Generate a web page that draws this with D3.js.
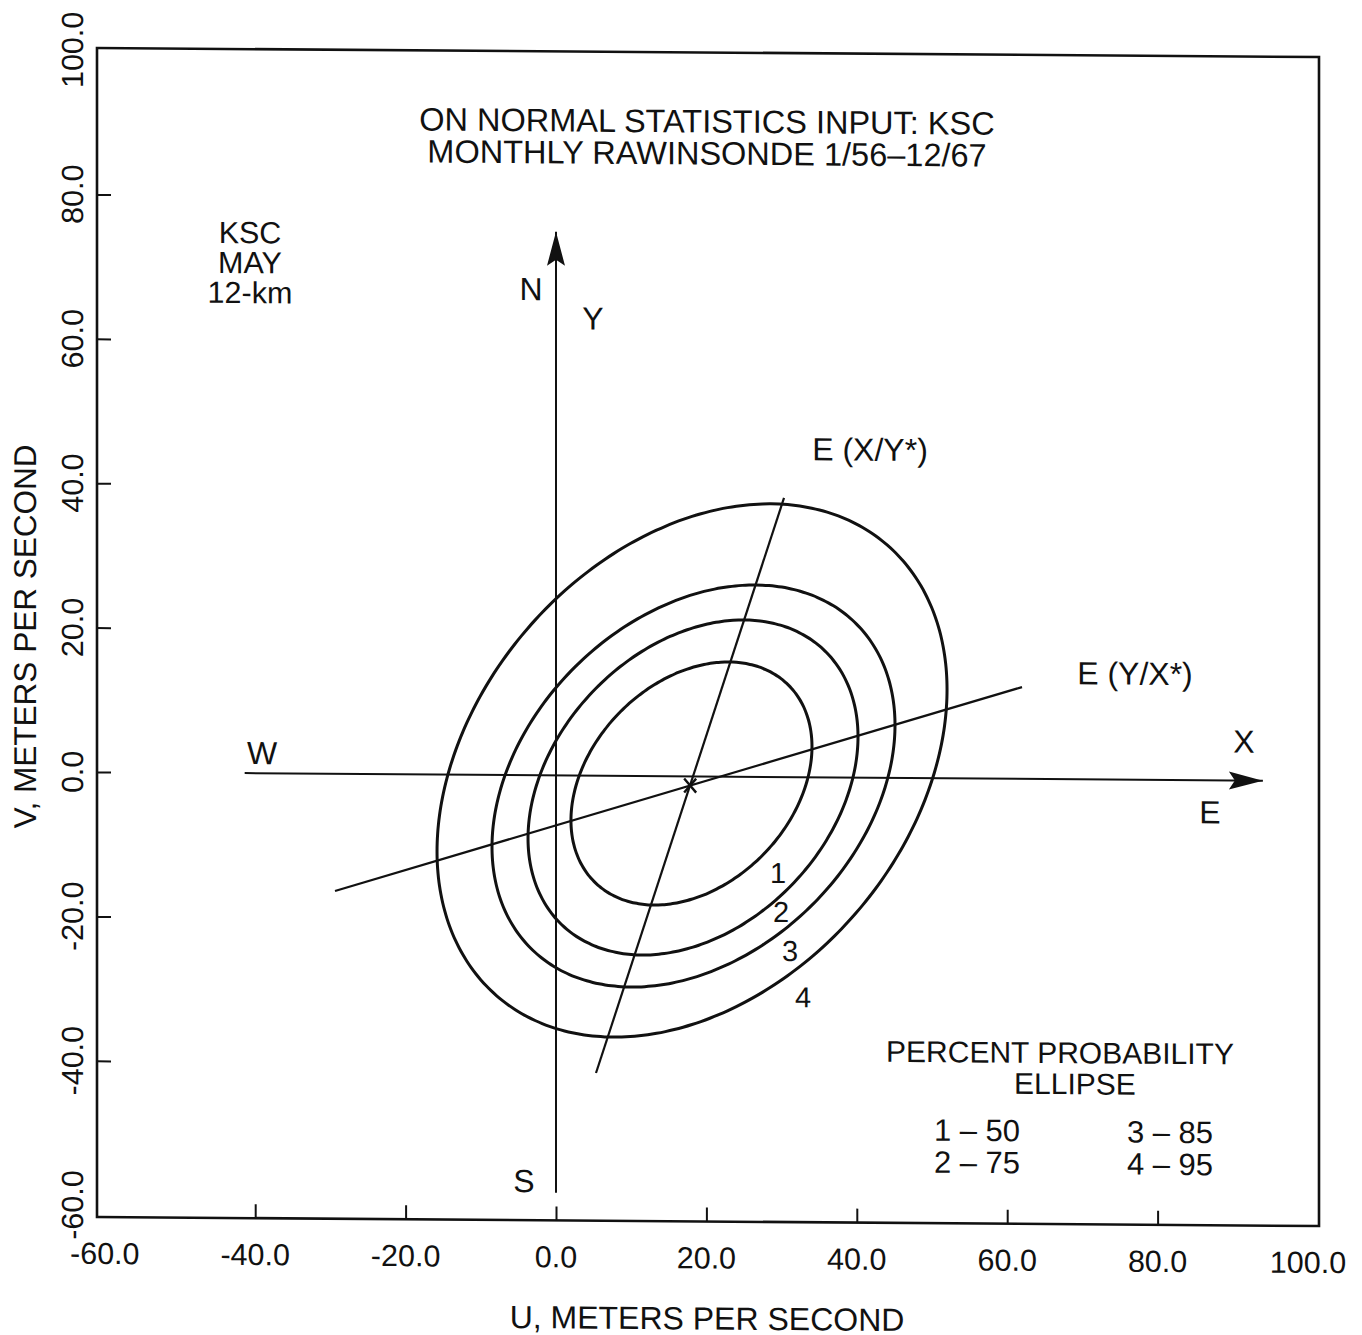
<!DOCTYPE html>
<html>
<head>
<meta charset="utf-8">
<script src="https://cdn.jsdelivr.net/npm/d3@7"></script>
<style>
  html, body { margin: 0; padding: 0; background: #fff; }
  svg { display: block; }
  text { font-family: "Liberation Sans", Arial, Helvetica, sans-serif; fill: #111; }
</style>
</head>
<body>
<svg id="chart" width="1362" height="1335"></svg>
<script>
// KSC, May, 12-km wind: probability ellipses (m/s)
const ellipseIds = [1, 2, 3, 4];
const ellipsePercent = [50, 75, 85, 95];
// extent of each ellipse: [uMin, uMax, vMin, vMax]
const ellipseExtents = [
  [1.99, 34.04, -17.85, 15.88],
  [-3.72, 40.16, -24.79, 21.72],
  [-8.51, 45.08, -29.24, 26.58],
  [-15.82, 52.0, -36.19, 37.83]
];
const corrUV = 0.31;
const meanPoint = [17.84, -1.27];

// conditional-mean lines, end points [u, v]
const lineYonX = [[-29.39, -16.23], [61.97, 12.71]];   // E(Y/X*)
const lineXonY = [[5.32, -41.18], [30.32, 38.66]];     // E(X/Y*)

// compass lines
const axisNSRange = [-57.8, 75.3];     // along V
const axisWERange = [-41.4, 94.0];     // along U

// axis ticks
const uTicks = [-60, -40, -20, 0, 20, 40, 60, 80, 100];
const vTicks = [-60, -40, -20, 0, 20, 40, 60, 80, 100];
const tickMarks = [-40, -20, 0, 20, 40, 60, 80];

const titleLines = ["ON NORMAL STATISTICS INPUT: KSC", "MONTHLY RAWINSONDE 1/56\u201312/67"];
const siteLines = ["KSC", "MAY", "12-km"];

// ---------------------------------------------------------------
const svg = d3.select("#chart");
const K = 0.0074; // slight vertical shear of the sheet
const g = svg.append("g").attr("transform", `matrix(1,${K},0,1,0,${-K * 97})`);

const x = d3.scaleLinear().domain([-60, 100]).range([104.8, 1308]);
const y = d3.scaleLinear().domain([-60, 100]).range([1205.2, 50]);

const FRAME = { left: 97, top: 48, right: 1319, bottom: 1217 };
const INK = "#111";

// frame
g.append("rect")
  .attr("x", FRAME.left).attr("y", FRAME.top)
  .attr("width", FRAME.right - FRAME.left).attr("height", FRAME.bottom - FRAME.top)
  .attr("fill", "none").attr("stroke", INK).attr("stroke-width", 2.6);

// inward ticks
const yAxis = g.append("g").attr("transform", `translate(${FRAME.left},0)`)
  .call(d3.axisLeft(y).tickValues(tickMarks).tickSize(-14).tickFormat(""));
const xAxis = g.append("g").attr("transform", `translate(0,${FRAME.bottom})`)
  .call(d3.axisBottom(x).tickValues(tickMarks).tickSize(-14).tickFormat(""));
[yAxis, xAxis].forEach(a => {
  a.select(".domain").remove();
  a.selectAll(".tick line").attr("stroke", INK).attr("stroke-width", 2);
});

const fmt = d => d.toFixed(1);

// tick labels
g.append("g").selectAll("text").data(uTicks).join("text")
  .attr("x", d => x(d)).attr("y", 1264)
  .attr("text-anchor", "middle").attr("font-size", 30.5)
  .text(d => fmt(d));
g.append("g").selectAll("text").data(vTicks).join("text")
  .attr("transform", d => `translate(83,${y(d)}) rotate(-90)`)
  .attr("text-anchor", "middle").attr("font-size", 30.5)
  .text(d => fmt(d));

// axis titles
g.append("text").attr("x", 707).attr("y", 1325).attr("text-anchor", "middle")
  .attr("font-size", 32).text("U, METERS PER SECOND");
g.append("text").attr("transform", "translate(36,637) rotate(-90)").attr("text-anchor", "middle")
  .attr("font-size", 31.5).text("V, METERS PER SECOND");

// title
g.append("g").selectAll("text").data(titleLines).join("text")
  .attr("x", 707).attr("y", (d, i) => 128 + i * 32)
  .attr("text-anchor", "middle").attr("font-size", 32.5).text(d => d);

// site block
g.append("g").selectAll("text").data(siteLines).join("text")
  .attr("x", 250).attr("y", (d, i) => 242 + i * 30)
  .attr("text-anchor", "middle").attr("font-size", 30.5).text(d => d);

// arrowheads
const defs = svg.append("defs");
defs.append("marker").attr("id", "arrow")
  .attr("viewBox", "-36 -10 38 20").attr("refX", 0).attr("refY", 0)
  .attr("markerUnits", "userSpaceOnUse").attr("markerWidth", 38).attr("markerHeight", 20)
  .attr("orient", "auto")
  .append("path").attr("d", "M0,0 L-34,-9 L-28,0 L-34,9 Z").attr("fill", INK);

// compass lines
g.append("line")
  .attr("x1", x(0)).attr("y1", y(axisNSRange[0]))
  .attr("x2", x(0)).attr("y2", y(axisNSRange[1]))
  .attr("stroke", INK).attr("stroke-width", 2).attr("marker-end", "url(#arrow)");
g.append("line")
  .attr("x1", x(axisWERange[0])).attr("y1", y(0))
  .attr("x2", x(axisWERange[1])).attr("y2", y(0))
  .attr("stroke", INK).attr("stroke-width", 2).attr("marker-end", "url(#arrow)");

// conditional-mean lines
const seg = d3.line().x(d => x(d[0])).y(d => y(d[1]));
g.append("g").selectAll("path").data([lineYonX, lineXonY]).join("path")
  .attr("d", seg).attr("fill", "none").attr("stroke", INK).attr("stroke-width", 2.2);

// probability ellipses
const ellipses = ellipseIds.map((id, i) => {
  const [u0, u1, v0, v1] = ellipseExtents[i];
  const cu = (u0 + u1) / 2, cv = (v0 + v1) / 2;
  const a = (u1 - u0) / 2, b = (v1 - v0) / 2;
  const s = Math.sqrt(1 - corrUV * corrUV);
  const pts = d3.range(0, 360, 2).map(deg => {
    const t = deg * Math.PI / 180;
    return [cu + a * Math.cos(t), cv + b * (corrUV * Math.cos(t) + s * Math.sin(t))];
  });
  return { id, pts };
});
const ellLine = d3.line().x(d => x(d[0])).y(d => y(d[1])).curve(d3.curveCardinalClosed);
g.append("g").selectAll("path").data(ellipses).join("path")
  .attr("d", d => ellLine(d.pts))
  .attr("fill", "none").attr("stroke", INK).attr("stroke-width", 3);

// mean marker
const cx = x(meanPoint[0]), cy = y(meanPoint[1]);
g.append("path")
  .attr("d", `M${cx - 6},${cy - 7}L${cx + 6},${cy + 7}M${cx + 6},${cy - 7}L${cx - 6},${cy + 7}`)
  .attr("stroke", INK).attr("stroke-width", 2.4).attr("fill", "none");

// ellipse numbers
const numPos = [[778, 878], [781, 917], [790, 956], [803, 1002]];
g.append("g").selectAll("text").data(ellipseIds).join("text")
  .attr("x", (d, i) => numPos[i][0]).attr("y", (d, i) => numPos[i][1])
  .attr("text-anchor", "middle").attr("font-size", 29).text(d => d);

// line and direction labels
const labels = [
  ["N", 531, 297], ["Y", 593, 326], ["W", 262, 763], ["X", 1244, 744],
  ["E", 1210, 815], ["S", 524, 1189],
  ["E (X/Y*)", 870, 455], ["E (Y/X*)", 1135, 677]
];
g.append("g").selectAll("text").data(labels).join("text")
  .attr("x", d => d[1]).attr("y", d => d[2])
  .attr("text-anchor", "middle").attr("font-size", 32).text(d => d[0]);

// legend
g.append("text").attr("x", 1060).attr("y", 1056).attr("text-anchor", "middle")
  .attr("font-size", 30).text("PERCENT PROBABILITY");
g.append("text").attr("x", 1075).attr("y", 1087).attr("text-anchor", "middle")
  .attr("font-size", 30).text("ELLIPSE");
const legPos = [[977, 1134.5], [977, 1166.5], [1170, 1135], [1170, 1167]];
g.append("g").selectAll("text").data(ellipseIds).join("text")
  .attr("x", (d, i) => legPos[i][0]).attr("y", (d, i) => legPos[i][1])
  .attr("text-anchor", "middle").attr("font-size", 31)
  .text((d, i) => `${d} \u2013 ${ellipsePercent[i]}`);
</script>
</body>
</html>
